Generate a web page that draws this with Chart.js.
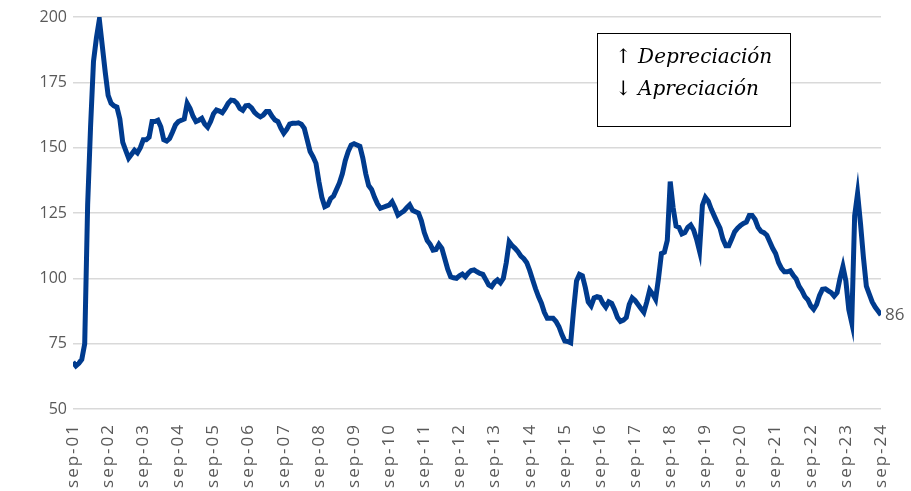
<!DOCTYPE html>
<html>
<head>
<meta charset="utf-8">
<script src="https://cdn.jsdelivr.net/npm/chart.js@4"></script>
<style>
  html, body { margin: 0; padding: 0; background: #fff; }
  #wrap { width: 911px; height: 491px; }
</style>
</head>
<body>
<div id="wrap"><canvas id="chart"></canvas></div>
<script>
// tick labels, one per year (every 12 months)
const tickLabels = [
  "sep-01", "sep-02", "sep-03", "sep-04", "sep-05", "sep-06", "sep-07", "sep-08",
  "sep-09", "sep-10", "sep-11", "sep-12", "sep-13", "sep-14", "sep-15", "sep-16",
  "sep-17", "sep-18", "sep-19", "sep-20", "sep-21", "sep-22", "sep-23", "sep-24",
];

// monthly index, sep-01 .. sep-24
const values = [
  68, 66.5, 67.5, 69, 75, 128, 158, 183, 192, 199,
  189, 179, 170, 167, 166, 165.5, 161, 152, 149, 146,
  147.5, 149, 148, 150, 153, 153, 154, 160, 160, 160.5,
  158, 153, 152.5, 153.5, 156, 158.7, 160, 160.5, 161, 167,
  165, 162, 160, 160.5, 161.2, 159, 157.8, 160, 163, 164.4,
  164, 163.4, 165, 167, 168.2, 168, 167, 165, 164.3, 166,
  166.2, 165.2, 163.5, 162.5, 161.8, 162.5, 163.8, 163.8, 162, 160.6,
  160, 157.5, 155.5, 157, 159, 159.3, 159.3, 159.5, 159, 157.4,
  153, 148.5, 146.5, 144, 137, 131, 127.4, 128, 130.5, 131.5,
  134, 136.5, 140, 145, 148.5, 151, 151.5, 151, 150.5, 146,
  140, 135.5, 134, 131, 128.5, 126.8, 127.2, 127.6, 128, 129.3,
  127, 124.2, 125, 125.7, 127, 128.1, 126, 125.5, 125, 122,
  117.5, 114.5, 113, 110.8, 111, 113, 111.5, 107.5, 103.5, 100.6,
  100.2, 100, 101, 101.6, 100.6, 102, 103, 103.2, 102.5, 101.9,
  101.5, 99.5, 97.5, 96.8, 98.5, 99.4, 98.3, 100, 106, 114,
  112.5, 111.5, 110.2, 108.5, 107.5, 106, 103, 99.5, 96, 93,
  90.5, 87, 84.7, 84.7, 84.7, 83.5, 81.5, 78.5, 76, 75.8,
  75.3, 88, 99, 101.5, 101, 96.5, 91, 89.5, 92.5, 93,
  92.7, 90.5, 89, 91, 90.4, 88, 85, 83.5, 84, 85,
  90, 92.5, 91.5, 90, 88.5, 87, 91, 95.5, 94, 92,
  100, 109.5, 110, 114.5, 137, 127, 120, 119.5, 117, 117.5,
  119.5, 120.4, 118.5, 115, 110.5, 128, 131, 129.5, 126.5, 124,
  121.5, 119.2, 115, 112.5, 112.5, 115, 117.8, 119.2, 120.2, 121,
  121.5, 124, 124, 122.5, 119.5, 118, 117.5, 116.5, 114, 111.5,
  109.5, 106, 103.8, 102.5, 102.5, 102.9, 101.2, 99.8, 97, 95.3,
  93, 91.8, 89.5, 88.2, 90, 93.5, 95.8, 96, 95.2, 94.5,
  93.2, 94.5, 100, 104.5, 99, 88, 83, 124, 132.5, 121,
  108, 97, 94, 91, 89, 87.5, 86,
];

const noteLines = ["↑ Depreciación", "↓ Apreciación"];
const lastLabel = "86";

const points = values.map((v, i) => ({ x: i, y: v }));

// box with the legend text and the end label
const extras = {
  id: "extras",
  afterDatasetsDraw(chart) {
    const ctx = chart.ctx;
    const xs = chart.scales.x;
    const ys = chart.scales.y;
    ctx.save();
    // end value label
    const n = values.length - 1;
    ctx.fillStyle = "#595959";
    ctx.font = "17px 'Open Sans'";
    ctx.textBaseline = "middle";
    ctx.textAlign = "left";
    ctx.fillText(lastLabel, xs.getPixelForValue(n) + 4, ys.getPixelForValue(values[n]));
    // note box
    ctx.fillStyle = "#fff";
    ctx.fillRect(597.5, 33.5, 193, 93);
    ctx.strokeStyle = "#000";
    ctx.lineWidth = 1;
    ctx.strokeRect(597.5, 33.5, 193, 93);
    ctx.fillStyle = "#000";
    ctx.font = "italic 20px 'DejaVu Serif'";
    ctx.fillText(noteLines[0], 615, 58);
    ctx.fillText(noteLines[1], 615, 90);
    ctx.restore();
    // x tick labels are drawn after this (z: 1), a bit spaced out
    ctx.letterSpacing = "2px";
  },
  afterDraw(chart) {
    chart.ctx.letterSpacing = "0px";
  },
};

const ctx = document.getElementById("chart").getContext("2d");
const chart = new Chart(ctx, {
  type: "line",
  data: {
    datasets: [
      {
        data: points,
        borderColor: "#003b8e",
        borderWidth: 5,
        pointRadius: 0,
        tension: 0,
        fill: false,
      },
    ],
  },
  options: {
    responsive: true,
    maintainAspectRatio: false,
    animation: false,
    layout: {
      padding: { left: 0, right: 30, top: 17, bottom: 0 },
    },
    scales: {
      x: {
        type: "linear",
        min: 0,
        max: values.length - 1,
        grid: { display: false },
        border: { display: false },
        ticks: {
          z: 1,
          stepSize: 12,
          autoSkip: false,
          minRotation: 90,
          maxRotation: 90,
          padding: 6,
          color: "#595959",
          font: { family: "'Open Sans'", size: 17 },
          callback: (v) => (v % 12 === 0 ? tickLabels[v / 12] : ""),
        },
        afterFit: (scale) => {
          scale.height = 82;
        },
      },
      y: {
        min: 50,
        max: 200,
        grid: { color: "#d9d9d9", lineWidth: 1.5, drawTicks: false },
        border: { display: false },
        ticks: {
          stepSize: 25,
          padding: 6,
          color: "#595959",
          font: { family: "'Open Sans'", size: 16 },
        },
        afterFit: (scale) => {
          scale.width = 73;
        },
      },
    },
    plugins: {
      legend: { display: false },
      tooltip: { enabled: false },
    },
  },
  plugins: [extras],
});
</script>
</body>
</html>
